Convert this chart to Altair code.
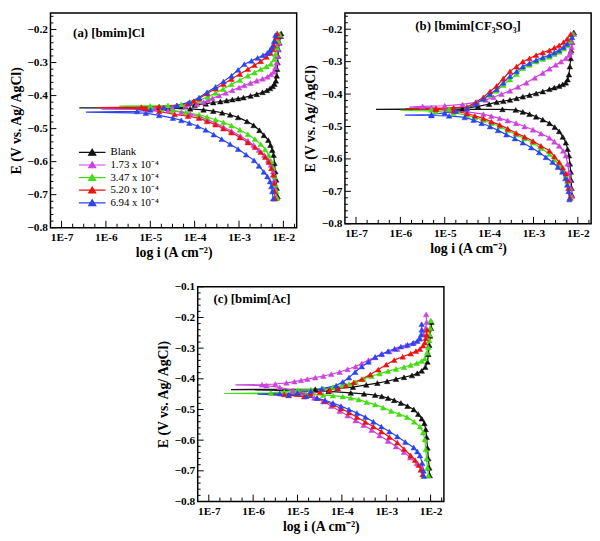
import altair as alt
import pandas as pd

SERIES = ["Blank", "1.73 x 10⁻⁴", "3.47 x 10⁻⁴", "5.20 x 10⁻⁴", "6.94 x 10⁻⁴"]
COLORS = ["#111111", "#cc44dd", "#44dd11", "#ee1111", "#2a45ee"]

# ---------- panel (a) [bmim]Cl : (E in V, log10 i) ----------
A_BLANK_CATH = [(-0.705,-2.13),(-0.68,-2.15),(-0.655,-2.16),(-0.63,-2.18),(-0.605,-2.20),(-0.58,-2.22),(-0.565,-2.25),(-0.55,-2.29),(-0.535,-2.34),(-0.52,-2.44),(-0.505,-2.54),(-0.49,-2.67),(-0.478,-2.82),(-0.466,-3.02),(-0.458,-3.2),(-0.452,-3.38),(-0.447,-3.58),(-0.443,-3.8),(-0.44,-4.1),(-0.438,-4.6)]
A_BLANK_CORR = (-0.437, -6.6)
A_BLANK_ANOD = [(-0.436,-4.8),(-0.433,-4.3),(-0.429,-4.0),(-0.425,-3.75),(-0.421,-3.58),(-0.418,-3.42),(-0.415,-3.28),(-0.412,-3.15),(-0.409,-3.02),(-0.406,-2.9),(-0.401,-2.74),(-0.396,-2.6),(-0.39,-2.47),(-0.384,-2.37),(-0.378,-2.3),(-0.372,-2.24),(-0.365,-2.2),(-0.355,-2.17),(-0.34,-2.15),(-0.32,-2.14),(-0.30,-2.13),(-0.28,-2.12),(-0.26,-2.11),(-0.24,-2.09),(-0.22,-2.06),(-0.212,-2.05)]

A_M1_CATH = [(-0.708,-2.15),(-0.68,-2.18),(-0.655,-2.2),(-0.63,-2.23),(-0.61,-2.28),(-0.595,-2.34),(-0.58,-2.43),(-0.565,-2.55),(-0.55,-2.67),(-0.537,-2.80),(-0.522,-2.97),(-0.507,-3.17),(-0.495,-3.35),(-0.483,-3.53),(-0.472,-3.72),(-0.463,-3.9),(-0.456,-4.1),(-0.45,-4.3),(-0.445,-4.6),(-0.442,-5.0)]
A_M1_CORR = (-0.441, -6.1)
A_M1_ANOD = [(-0.440,-4.9),(-0.437,-4.5),(-0.432,-4.2),(-0.426,-3.95),(-0.42,-3.8),(-0.414,-3.7),(-0.408,-3.6),(-0.40,-3.45),(-0.392,-3.3),(-0.384,-3.15),(-0.376,-3.0),(-0.369,-2.88),(-0.362,-2.74),(-0.355,-2.6),(-0.349,-2.47),(-0.343,-2.36),(-0.336,-2.28),(-0.328,-2.22),(-0.315,-2.18),(-0.30,-2.15),(-0.28,-2.13),(-0.26,-2.12),(-0.24,-2.1),(-0.217,-2.07)]

A_M2_CATH = [(-0.71,-2.14),(-0.69,-2.16),(-0.67,-2.18),(-0.645,-2.2),(-0.62,-2.23),(-0.60,-2.27),(-0.58,-2.33),(-0.563,-2.41),(-0.547,-2.51),(-0.532,-2.64),(-0.517,-2.80),(-0.504,-2.98),(-0.491,-3.17),(-0.481,-3.35),(-0.473,-3.53),(-0.465,-3.72),(-0.458,-3.9),(-0.451,-4.2),(-0.445,-4.5),(-0.44,-4.75),(-0.435,-5.0)]
A_M2_CORR = (-0.432, -5.7)
A_M2_ANOD = [(-0.431,-5.0),(-0.43,-4.6),(-0.427,-4.3),(-0.421,-4.1),(-0.414,-3.9),(-0.404,-3.7),(-0.392,-3.53),(-0.38,-3.36),(-0.366,-3.17),(-0.353,-2.98),(-0.34,-2.80),(-0.33,-2.65),(-0.32,-2.51),(-0.312,-2.38),(-0.304,-2.28),(-0.29,-2.21),(-0.275,-2.18),(-0.255,-2.15),(-0.235,-2.12),(-0.215,-2.09)]

A_M3_CATH = [(-0.712,-2.19),(-0.69,-2.2),(-0.665,-2.21),(-0.64,-2.23),(-0.62,-2.27),(-0.601,-2.33),(-0.586,-2.41),(-0.571,-2.51),(-0.556,-2.64),(-0.542,-2.80),(-0.527,-2.98),(-0.512,-3.17),(-0.5,-3.35),(-0.488,-3.53),(-0.478,-3.72),(-0.468,-3.9),(-0.462,-4.15),(-0.457,-4.45),(-0.448,-4.8),(-0.44,-5.1)]
A_M3_CORR = (-0.436, -6.2)
A_M3_ANOD = [(-0.435,-5.2),(-0.433,-4.8),(-0.43,-4.4),(-0.424,-4.15),(-0.417,-4.02),(-0.409,-3.9),(-0.394,-3.72),(-0.379,-3.53),(-0.365,-3.35),(-0.350,-3.17),(-0.335,-2.98),(-0.320,-2.80),(-0.308,-2.65),(-0.296,-2.51),(-0.283,-2.38),(-0.271,-2.29),(-0.26,-2.24),(-0.248,-2.21),(-0.236,-2.18),(-0.222,-2.16),(-0.212,-2.14)]

A_M4_CATH = [(-0.712,-2.23),(-0.69,-2.25),(-0.675,-2.27),(-0.66,-2.30),(-0.645,-2.36),(-0.631,-2.44),(-0.613,-2.55),(-0.596,-2.66),(-0.579,-2.84),(-0.562,-3.02),(-0.547,-3.2),(-0.532,-3.39),(-0.518,-3.57),(-0.504,-3.75),(-0.493,-3.93),(-0.483,-4.12),(-0.475,-4.3),(-0.468,-4.49),(-0.46,-4.8),(-0.453,-5.1)]
A_M4_CORR = (-0.45, -6.45)
A_M4_ANOD = [(-0.448,-5.3),(-0.443,-5.0),(-0.436,-4.7),(-0.43,-4.4),(-0.42,-4.12),(-0.406,-3.9),(-0.39,-3.72),(-0.374,-3.53),(-0.357,-3.35),(-0.340,-3.17),(-0.322,-3.02),(-0.305,-2.88),(-0.295,-2.72),(-0.286,-2.58),(-0.278,-2.46),(-0.271,-2.36),(-0.262,-2.3),(-0.251,-2.25),(-0.235,-2.21),(-0.217,-2.18)]

# ---------- panel (b) [bmim[CF3SO3] ----------
B_BLANK_CATH = [(-0.712,-2.13),(-0.69,-2.14),(-0.665,-2.15),(-0.64,-2.16),(-0.615,-2.18),(-0.59,-2.20),(-0.57,-2.23),(-0.55,-2.27),(-0.532,-2.34),(-0.515,-2.42),(-0.502,-2.52),(-0.49,-2.64),(-0.479,-2.79),(-0.47,-2.94),(-0.462,-3.09),(-0.455,-3.24),(-0.449,-3.4),(-0.447,-3.7)]
B_BLANK_CORR = (-0.447, -6.55)
B_BLANK_ANOD = [(-0.445,-4.6),(-0.438,-4.25),(-0.431,-4.0),(-0.425,-3.83),(-0.422,-3.68),(-0.418,-3.53),(-0.413,-3.38),(-0.408,-3.24),(-0.403,-3.09),(-0.398,-2.94),(-0.392,-2.79),(-0.385,-2.64),(-0.38,-2.53),(-0.375,-2.42),(-0.37,-2.34),(-0.365,-2.27),(-0.355,-2.23),(-0.34,-2.2),(-0.315,-2.18),(-0.29,-2.16),(-0.265,-2.15),(-0.24,-2.13),(-0.21,-2.09)]

B_M1_CATH = [(-0.715,-2.13),(-0.69,-2.16),(-0.665,-2.18),(-0.64,-2.2),(-0.615,-2.23),(-0.59,-2.27),(-0.575,-2.33),(-0.56,-2.42),(-0.547,-2.53),(-0.535,-2.64),(-0.522,-2.83),(-0.51,-3.01),(-0.5,-3.2),(-0.49,-3.39),(-0.482,-3.58),(-0.475,-3.76),(-0.468,-3.95),(-0.462,-4.13),(-0.455,-4.5),(-0.448,-4.9),(-0.442,-5.3)]
B_M1_CORR = (-0.44, -5.8)
B_M1_ANOD = [(-0.438,-5.5),(-0.436,-5.0),(-0.432,-4.6),(-0.425,-4.27),(-0.418,-4.08),(-0.41,-3.90),(-0.4,-3.72),(-0.39,-3.53),(-0.378,-3.35),(-0.365,-3.16),(-0.35,-2.97),(-0.335,-2.79),(-0.322,-2.64),(-0.31,-2.50),(-0.3,-2.38),(-0.29,-2.27),(-0.28,-2.2),(-0.27,-2.16),(-0.255,-2.14),(-0.24,-2.13),(-0.215,-2.09)]

B_M2_CATH = [(-0.72,-2.16),(-0.69,-2.2),(-0.67,-2.23),(-0.65,-2.27),(-0.635,-2.34),(-0.62,-2.42),(-0.602,-2.53),(-0.585,-2.64),(-0.567,-2.83),(-0.55,-3.01),(-0.537,-3.2),(-0.525,-3.39),(-0.512,-3.58),(-0.50,-3.76),(-0.49,-3.95),(-0.48,-4.13),(-0.472,-4.32),(-0.465,-4.5),(-0.458,-4.8),(-0.453,-5.2)]
B_M2_CORR = (-0.45, -6.0)
B_M2_ANOD = [(-0.449,-5.3),(-0.446,-4.9),(-0.44,-4.5),(-0.428,-4.3),(-0.415,-4.13),(-0.403,-3.98),(-0.39,-3.83),(-0.372,-3.68),(-0.355,-3.53),(-0.338,-3.38),(-0.32,-3.24),(-0.31,-3.09),(-0.30,-2.94),(-0.292,-2.79),(-0.285,-2.64),(-0.277,-2.53),(-0.27,-2.42),(-0.26,-2.32),(-0.25,-2.24),(-0.235,-2.18),(-0.215,-2.12)]

B_M3_CATH = [(-0.72,-2.18),(-0.69,-2.21),(-0.665,-2.23),(-0.645,-2.27),(-0.627,-2.34),(-0.61,-2.42),(-0.592,-2.53),(-0.575,-2.64),(-0.56,-2.83),(-0.545,-3.01),(-0.532,-3.2),(-0.52,-3.39),(-0.507,-3.58),(-0.495,-3.76),(-0.485,-3.95),(-0.475,-4.13),(-0.467,-4.32),(-0.46,-4.5),(-0.452,-4.8),(-0.447,-5.2)]
B_M3_CORR = (-0.445, -5.9)
B_M3_ANOD = [(-0.444,-5.2),(-0.442,-4.8),(-0.44,-4.5),(-0.425,-4.3),(-0.41,-4.13),(-0.392,-3.98),(-0.375,-3.83),(-0.352,-3.68),(-0.33,-3.53),(-0.315,-3.38),(-0.30,-3.24),(-0.29,-3.09),(-0.28,-2.94),(-0.272,-2.79),(-0.265,-2.64),(-0.257,-2.53),(-0.25,-2.42),(-0.24,-2.32),(-0.23,-2.24),(-0.215,-2.16)]

B_M4_CATH = [(-0.725,-2.19),(-0.7,-2.21),(-0.68,-2.24),(-0.66,-2.28),(-0.64,-2.35),(-0.625,-2.45),(-0.61,-2.57),(-0.595,-2.72),(-0.58,-2.87),(-0.565,-3.05),(-0.55,-3.24),(-0.537,-3.42),(-0.525,-3.61),(-0.512,-3.8),(-0.50,-3.98),(-0.49,-4.17),(-0.48,-4.35),(-0.472,-4.55),(-0.467,-4.9),(-0.466,-5.3)]
B_M4_CORR = (-0.465, -5.9)
B_M4_ANOD = [(-0.463,-5.3),(-0.458,-5.0),(-0.452,-4.75),(-0.445,-4.5),(-0.43,-4.3),(-0.415,-4.13),(-0.4,-3.98),(-0.385,-3.83),(-0.365,-3.68),(-0.345,-3.53),(-0.33,-3.38),(-0.315,-3.24),(-0.305,-3.09),(-0.295,-2.94),(-0.287,-2.79),(-0.28,-2.64),(-0.272,-2.53),(-0.265,-2.42),(-0.255,-2.32),(-0.245,-2.24),(-0.225,-2.13)]

# ---------- panel (c) [bmim[Ac] ----------
C_BLANK_CATH = [(-0.715,-2.02),(-0.69,-2.03),(-0.66,-2.05),(-0.625,-2.07),(-0.59,-2.09),(-0.565,-2.11),(-0.545,-2.14),(-0.53,-2.2),(-0.515,-2.28),(-0.5,-2.38),(-0.489,-2.52),(-0.479,-2.67),(-0.47,-2.82),(-0.463,-2.96),(-0.457,-3.1),(-0.453,-3.25),(-0.449,-3.5),(-0.446,-3.8),(-0.441,-4.3)]
C_BLANK_CORR = (-0.435, -6.5)
C_BLANK_ANOD = [(-0.434,-4.6),(-0.431,-4.1),(-0.427,-3.75),(-0.42,-3.45),(-0.414,-3.2),(-0.408,-2.98),(-0.401,-2.78),(-0.395,-2.6),(-0.389,-2.42),(-0.382,-2.3),(-0.374,-2.2),(-0.362,-2.12),(-0.345,-2.07),(-0.32,-2.05),(-0.29,-2.03),(-0.26,-2.01),(-0.235,-1.99),(-0.215,-1.98)]

C_M1_CATH = [(-0.691,-2.2),(-0.676,-2.31),(-0.657,-2.46),(-0.639,-2.6),(-0.621,-2.78),(-0.603,-2.96),(-0.585,-3.15),(-0.567,-3.33),(-0.551,-3.51),(-0.536,-3.69),(-0.52,-3.87),(-0.505,-4.05),(-0.489,-4.24),(-0.474,-4.42),(-0.462,-4.62),(-0.45,-4.85),(-0.438,-5.1),(-0.428,-5.4),(-0.422,-5.7)]
C_M1_CORR = (-0.42, -6.4)
C_M1_ANOD = [(-0.419,-5.8),(-0.417,-5.5),(-0.413,-5.25),(-0.409,-5.07),(-0.405,-4.92),(-0.401,-4.78),(-0.396,-4.6),(-0.391,-4.42),(-0.385,-4.24),(-0.378,-4.05),(-0.369,-3.87),(-0.36,-3.69),(-0.35,-3.55),(-0.339,-3.4),(-0.33,-3.25),(-0.32,-3.11),(-0.311,-2.93),(-0.303,-2.75),(-0.292,-2.56),(-0.282,-2.38),(-0.27,-2.26),(-0.256,-2.16),(-0.235,-2.11),(-0.215,-2.09),(-0.19,-2.1)]

C_M2_CATH = [(-0.715,-2.05),(-0.69,-2.07),(-0.66,-2.09),(-0.63,-2.11),(-0.598,-2.13),(-0.575,-2.17),(-0.556,-2.24),(-0.54,-2.37),(-0.525,-2.53),(-0.515,-2.71),(-0.505,-2.89),(-0.494,-3.07),(-0.484,-3.25),(-0.476,-3.44),(-0.468,-3.62),(-0.462,-3.8),(-0.458,-3.98),(-0.455,-4.2),(-0.453,-4.42),(-0.45,-4.8),(-0.449,-5.3)]
C_M2_CORR = (-0.448, -6.65)
C_M2_ANOD = [(-0.446,-5.6),(-0.442,-5.3),(-0.437,-5.0),(-0.435,-4.7),(-0.432,-4.42),(-0.427,-4.2),(-0.422,-3.98),(-0.417,-3.84),(-0.411,-3.69),(-0.401,-3.51),(-0.391,-3.33),(-0.383,-3.15),(-0.375,-2.96),(-0.368,-2.78),(-0.362,-2.6),(-0.355,-2.45),(-0.349,-2.31),(-0.342,-2.2),(-0.334,-2.13),(-0.315,-2.08),(-0.297,-2.05),(-0.275,-2.03),(-0.256,-2.02),(-0.235,-2.01),(-0.21,-2.0)]

C_M3_CATH = [(-0.712,-2.18),(-0.697,-2.22),(-0.681,-2.27),(-0.665,-2.35),(-0.65,-2.45),(-0.629,-2.6),(-0.608,-2.75),(-0.59,-2.93),(-0.572,-3.11),(-0.556,-3.29),(-0.541,-3.47),(-0.525,-3.66),(-0.51,-3.84),(-0.497,-4.02),(-0.484,-4.2),(-0.473,-4.38),(-0.463,-4.56),(-0.458,-4.85),(-0.454,-5.2)]
C_M3_CORR = (-0.452, -5.65)
C_M3_ANOD = [(-0.451,-5.3),(-0.45,-5.0),(-0.448,-4.71),(-0.443,-4.49),(-0.437,-4.27),(-0.43,-4.09),(-0.422,-3.91),(-0.412,-3.73),(-0.401,-3.55),(-0.386,-3.36),(-0.37,-3.18),(-0.354,-3.0),(-0.339,-2.82),(-0.328,-2.63),(-0.318,-2.45),(-0.31,-2.33),(-0.303,-2.24),(-0.292,-2.17),(-0.282,-2.13),(-0.268,-2.11),(-0.256,-2.09),(-0.24,-2.08)]

C_M4_CATH = [(-0.717,-2.15),(-0.7,-2.16),(-0.675,-2.19),(-0.65,-2.24),(-0.637,-2.3),(-0.624,-2.38),(-0.606,-2.57),(-0.588,-2.75),(-0.572,-2.93),(-0.556,-3.11),(-0.54,-3.29),(-0.525,-3.47),(-0.512,-3.66),(-0.50,-3.84),(-0.489,-4.02),(-0.479,-4.2),(-0.47,-4.38),(-0.463,-4.56),(-0.457,-4.8),(-0.453,-5.2)]
C_M4_CORR = (-0.45, -5.9)
C_M4_ANOD = [(-0.448,-5.4),(-0.445,-5.0),(-0.44,-4.7),(-0.432,-4.45),(-0.422,-4.13),(-0.41,-3.98),(-0.396,-3.84),(-0.378,-3.7),(-0.36,-3.55),(-0.345,-3.4),(-0.329,-3.25),(-0.319,-3.1),(-0.31,-2.96),(-0.302,-2.81),(-0.295,-2.67),(-0.289,-2.52),(-0.284,-2.4),(-0.277,-2.3),(-0.268,-2.24),(-0.255,-2.21),(-0.24,-2.2),(-0.222,-2.2)]

# axis tick values
X_MAJOR_EXP = [-7, -6, -5, -4, -3, -2]
X_MINOR_EXP = [-6.75, -6.5, -6.25, -5.75, -5.5, -5.25, -4.75, -4.5, -4.25,
               -3.75, -3.5, -3.25, -2.75, -2.5, -2.25, -1.75]
Y_MAJOR_AB = [-0.8, -0.7, -0.6, -0.5, -0.4, -0.3, -0.2]
Y_MAJOR_C = [-0.8, -0.7, -0.6, -0.5, -0.4, -0.3, -0.2, -0.1]
Y_MINOR = [-0.78, -0.76, -0.74, -0.72, -0.68, -0.66, -0.64, -0.62, -0.58, -0.56, -0.54, -0.52,
           -0.48, -0.46, -0.44, -0.42, -0.38, -0.36, -0.34, -0.32, -0.28, -0.26, -0.24, -0.22,
           -0.18, -0.16, -0.14, -0.12]

FONT = "Liberation Serif"
X_DOMAIN = [10 ** -7.25, 10 ** -1.7]
SYMBOL = "M-4.5,0H4.5M0,-1.05L1.2,0.95L-1.2,0.95Z"


def build(groups):
    rows = []
    for name, cath, corr, anod in groups:
        seq = [(e, l, 1) for e, l in cath] + [(corr[0], corr[1], 0)] + [(e, l, 1) for e, l in anod]
        for k, (e, l, m) in enumerate(seq):
            rows.append({"series": name, "k": k, "E": e, "i": 10 ** l, "m": m})
    return pd.DataFrame(rows)


DF_A = build([(SERIES[0], A_BLANK_CATH, A_BLANK_CORR, A_BLANK_ANOD),
              (SERIES[1], A_M1_CATH, A_M1_CORR, A_M1_ANOD),
              (SERIES[2], A_M2_CATH, A_M2_CORR, A_M2_ANOD),
              (SERIES[3], A_M3_CATH, A_M3_CORR, A_M3_ANOD),
              (SERIES[4], A_M4_CATH, A_M4_CORR, A_M4_ANOD)])
DF_B = build([(SERIES[0], B_BLANK_CATH, B_BLANK_CORR, B_BLANK_ANOD),
              (SERIES[1], B_M1_CATH, B_M1_CORR, B_M1_ANOD),
              (SERIES[2], B_M2_CATH, B_M2_CORR, B_M2_ANOD),
              (SERIES[3], B_M3_CATH, B_M3_CORR, B_M3_ANOD),
              (SERIES[4], B_M4_CATH, B_M4_CORR, B_M4_ANOD)])
DF_C = build([(SERIES[0], C_BLANK_CATH, C_BLANK_CORR, C_BLANK_ANOD),
              (SERIES[1], C_M1_CATH, C_M1_CORR, C_M1_ANOD),
              (SERIES[2], C_M2_CATH, C_M2_CORR, C_M2_ANOD),
              (SERIES[3], C_M3_CATH, C_M3_CORR, C_M3_ANOD),
              (SERIES[4], C_M4_CATH, C_M4_CORR, C_M4_ANOD)])


def panel(df, w, h, ydom, ymajor, title, tx, ty, talign, lx, ly, rowpad):
    xs = alt.Scale(type="log", domain=X_DOMAIN, nice=False)
    ys = alt.Scale(domain=ydom, nice=False, zero=False)
    sc = alt.Scale(domain=SERIES, range=COLORS)
    leg = alt.Legend(title=None, orient="none", legendX=lx, legendY=ly,
                     symbolType=SYMBOL, symbolSize=36, symbolStrokeWidth=1.2,
                     symbolOpacity=1, labelFont=FONT, labelFontSize=11,
                     labelColor="black", labelOffset=13, rowPadding=rowpad, padding=0)
    xaxis = alt.Axis(values=[10 ** v for v in X_MAJOR_EXP],
                     labelExpr="'1E' + round(log(datum.value) / LN10)",
                     title="log i (A cm⁻²)", titleFont=FONT, titleFontSize=14,
                     titleFontWeight="bold", titleColor="black", titlePadding=3,
                     labelFont=FONT, labelFontSize=11.5, labelFontWeight="bold",
                     labelColor="black", labelPadding=4, ticks=False, domain=False,
                     grid=False, labelFlush=False)
    yaxis = alt.Axis(values=ymajor, format=".1f", title="E (V vs. Ag/ AgCl)",
                     titleFont=FONT, titleFontSize=14, titleFontWeight="bold",
                     titleColor="black", titlePadding=4, labelFont=FONT,
                     labelFontSize=11.5, labelFontWeight="bold", labelColor="black",
                     labelPadding=3, ticks=False, domain=False, grid=False)
    base = alt.Chart(df)
    lines = base.mark_line(strokeWidth=1.2, clip=True).encode(
        x=alt.X("i:Q", scale=xs, axis=xaxis),
        y=alt.Y("E:Q", scale=ys, axis=yaxis),
        stroke=alt.Stroke("series:N", scale=sc, legend=leg, sort=SERIES),
        order="k:Q",
    )
    pts = base.transform_filter("datum.m == 1").mark_point(
        shape="triangle-up", filled=True, size=32, opacity=1, clip=True,
        strokeWidth=0.5).encode(
        x=alt.X("i:Q", scale=xs, axis=xaxis),
        y=alt.Y("E:Q", scale=ys, axis=yaxis),
        fill=alt.Fill("series:N", scale=sc, legend=leg, sort=SERIES),
        stroke=alt.Stroke("series:N", scale=sc, legend=leg, sort=SERIES),
    )
    xmaj = alt.Chart(pd.DataFrame({"v": [10 ** v for v in X_MAJOR_EXP]})).mark_rule(
        color="black", strokeWidth=1).encode(
        x=alt.X("v:Q", scale=xs, axis=xaxis), y=alt.value(h), y2=alt.value(h - 7))
    xmin = alt.Chart(pd.DataFrame({"v": [10 ** v for v in X_MINOR_EXP]})).mark_rule(
        color="black", strokeWidth=1).encode(
        x=alt.X("v:Q", scale=xs, axis=xaxis), y=alt.value(h), y2=alt.value(h - 4))
    ymaj = alt.Chart(pd.DataFrame({"v": ymajor})).mark_rule(
        color="black", strokeWidth=1).encode(
        y=alt.Y("v:Q", scale=ys, axis=yaxis), x=alt.value(0), x2=alt.value(6))
    ymin = alt.Chart(pd.DataFrame({"v": [v for v in Y_MINOR if ydom[0] < v < ydom[1]]})).mark_rule(
        color="black", strokeWidth=1).encode(
        y=alt.Y("v:Q", scale=ys, axis=yaxis), x=alt.value(0), x2=alt.value(3))
    ttl = alt.Chart(pd.DataFrame({"t": [title]})).mark_text(
        font=FONT, fontSize=13, fontWeight="bold", color="black",
        align=talign, baseline="middle").encode(
        text="t:N", x=alt.value(tx), y=alt.value(ty))
    return alt.layer(lines, pts, xmaj, xmin, ymaj, ymin, ttl).properties(width=w, height=h)


pa = panel(DF_A, 250, 218, [-0.8, -0.15], Y_MAJOR_AB, "(a) [bmim]Cl", 23, 20, "left", 37, 136, 0.8)
pb = panel(DF_B, 250, 214, [-0.8, -0.15], Y_MAJOR_AB, "(b) [bmim[CF₃SO₃]", 125, 13, "center", 34, 133, 1.5)
pc = panel(DF_C, 250, 218, [-0.8, -0.1], Y_MAJOR_C, "(c) [bmim[Ac]", 16, 12, "left", 33, 133, 3)

top = alt.hconcat(pa, pb, spacing=5)
chart = alt.vconcat(top, pc, spacing=19, center=True).properties(
    padding=0, background="white"
).configure_view(stroke="black", strokeWidth=1.5).configure_axis(
    labelFont=FONT, titleFont=FONT
).configure_legend(labelFont=FONT)

chart.save("out.html", embed_options={"renderer": "svg", "actions": False})
